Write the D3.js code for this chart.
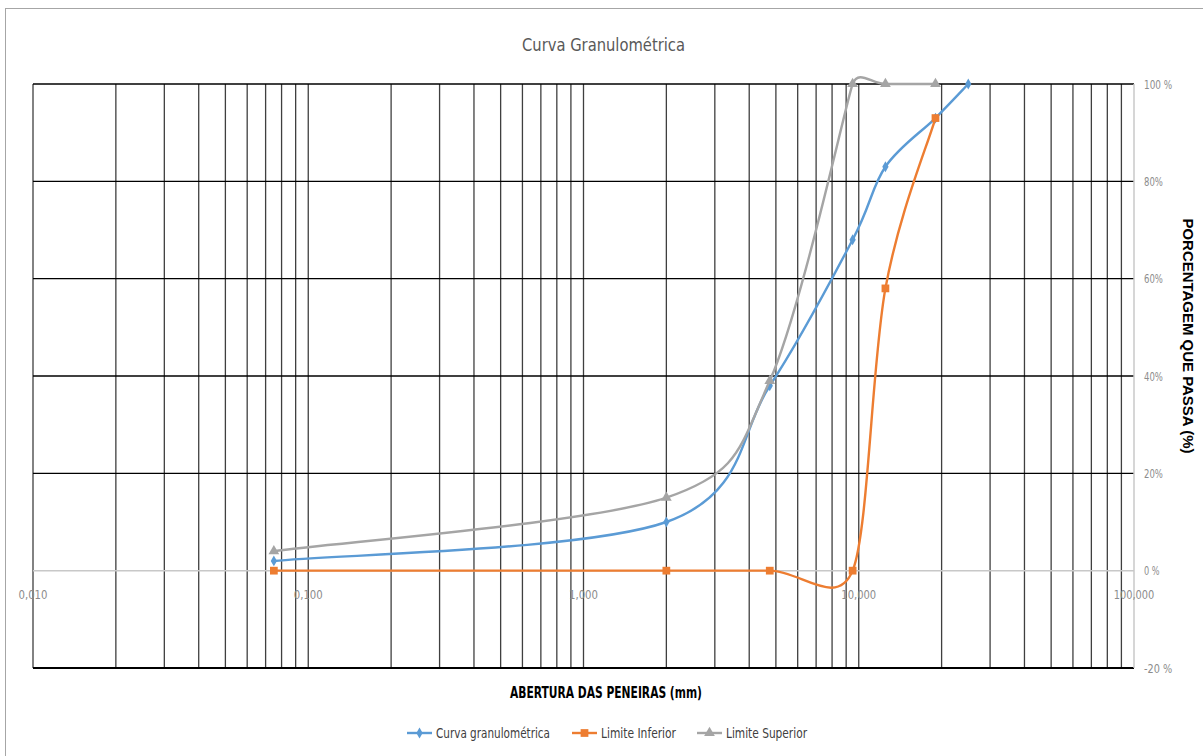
<!DOCTYPE html>
<html>
<head>
<meta charset="utf-8">
<script src="https://cdn.jsdelivr.net/npm/d3@7"></script>
<style>
  html, body { margin: 0; padding: 0; background: #fff; }
  svg { display: block; }
  .narrow { font-family: "Liberation Sans Narrow", "Arial Narrow", "DejaVu Sans Condensed", "Liberation Sans", sans-serif; }
</style>
</head>
<body>
<svg id="chart" width="1203" height="756"></svg>
<script>
// ---- data ----
const title = "Curva Granulométrica";
const xTitle = "ABERTURA DAS PENEIRAS (mm)";
const yTitle = "PORCENTAGEM QUE PASSA (%)";
const sieves = [0.075, 2.0, 4.75, 9.5, 12.5, 19, 25];
const curva = [2, 10, 38, 68, 83, 93, 100];
const limiteInferior = [0, 0, 0, 0, 58, 93, null];
const limiteSuperior = [4, 15, 39, 100, 100, 100, null];
const seriesNames = ["Curva granulométrica", "Limite Inferior", "Limite Superior"];
const xTickValues = [0.01, 0.1, 1, 10, 100];
const xTickLabels = ["0,010", "0,100", "1,000", "10,000", "100,000"];
const yTickValues = [-20, 0, 20, 40, 60, 80, 100];
const yTickLabels = ["-20 %", "0 %", "20%", "40%", "60%", "80%", "100 %"];

const colors = ["#5B9BD5", "#ED7D31", "#A5A5A5"];

const svg = d3.select("#chart");
const L = 33, R = 1134, T = 84, B = 668;

const x = d3.scaleLog().domain([0.01, 100]).range([L, R]);
const y = d3.scaleLinear().domain([-20, 100]).range([B, T]);

// border
svg.append("rect").attr("x", 5.5).attr("y", 8.5).attr("width", 1210).attr("height", 760)
  .attr("fill", "none").attr("stroke", "#a6a6a6").attr("stroke-width", 1);

// title
svg.append("text").attr("class", "narrow").attr("x", 603.5).attr("y", 51)
  .attr("text-anchor", "middle").attr("font-size", 18).attr("fill", "#595959")
  .attr("textLength", 163).attr("lengthAdjust", "spacingAndGlyphs").text(title);

// vertical gridlines (log minor)
const vTicks = [];
for (let e = -2; e < 2; e++) {
  for (let m = 1; m <= 9; m++) vTicks.push(m * Math.pow(10, e));
}
const g = svg.append("g");
g.selectAll("line.v").data(vTicks).enter().append("line")
  .attr("x1", d => x(d)).attr("x2", d => x(d)).attr("y1", T).attr("y2", B)
  .attr("stroke", "#3f3f3f").attr("stroke-width", 1.3);

// horizontal gridlines
g.selectAll("line.h").data(yTickValues.filter(v => v !== 0)).enter().append("line")
  .attr("x1", L).attr("x2", R).attr("y1", d => y(d)).attr("y2", d => y(d))
  .attr("stroke", "#000").attr("stroke-width", d => d === -20 ? 2 : 1.4);

// zero line and right axis line (light grey)
svg.append("line").attr("x1", L).attr("x2", R).attr("y1", y(0)).attr("y2", y(0))
  .attr("stroke", "#c8c8c8").attr("stroke-width", 1.5);
svg.append("line").attr("x1", R).attr("x2", R).attr("y1", T).attr("y2", B)
  .attr("stroke", "#c8c8c8").attr("stroke-width", 1.5);

// x tick labels
svg.append("g").selectAll("text").data(xTickValues).enter().append("text")
  .attr("class", "narrow").attr("x", d => x(d)).attr("y", 599)
  .attr("text-anchor", "middle").attr("font-size", 13).attr("fill", "#8c8c8c")
  .attr("textLength", (d, i) => xTickLabels[i].length * 5.8).attr("lengthAdjust", "spacingAndGlyphs")
  .text((d, i) => xTickLabels[i]);

// y tick labels (right)
svg.append("g").selectAll("text").data(yTickValues).enter().append("text")
  .attr("class", "narrow").attr("x", 1144).attr("y", d => y(d) + 4.5)
  .attr("font-size", 13).attr("fill", "#8c8c8c")
  .attr("textLength", (d, i) => yTickLabels[i].replace(" ", "").length * 6.3 + (yTickLabels[i].includes(" ") ? 3 : 0))
  .attr("lengthAdjust", "spacingAndGlyphs")
  .text((d, i) => yTickLabels[i]);

// axis titles
svg.append("text").attr("class", "narrow").attr("x", 606).attr("y", 698)
  .attr("text-anchor", "middle").attr("font-size", 16).attr("font-weight", "bold").attr("fill", "#000")
  .attr("textLength", 192).attr("lengthAdjust", "spacingAndGlyphs").text(xTitle);

svg.append("text").attr("transform", "translate(1183,336) rotate(90)")
  .attr("text-anchor", "middle").attr("font-family", "'Liberation Sans', Arial, sans-serif")
  .attr("font-size", 14).attr("font-weight", "bold").attr("fill", "#000")
  .attr("textLength", 235).attr("lengthAdjust", "spacingAndGlyphs").text(yTitle);

// Excel-like smoothed line: Bezier with tangent (P2-P0)/6, capped at half the shorter adjacent segment
function dist(a, b) { return Math.hypot(b[0] - a[0], b[1] - a[1]); }
function ctrl(A, B, C, sign) {
  const d02 = dist(A, C);
  if (d02 === 0) return B;
  const d01 = dist(A, B), d12 = dist(B, C);
  let len = d02 / 6;
  const cap = (d01 === 0 ? d12 : d12 === 0 ? d01 : Math.min(d01, d12)) / 2;
  len = Math.min(len, cap);
  const ux = (C[0] - A[0]) / d02, uy = (C[1] - A[1]) / d02;
  return [B[0] + sign * ux * len, B[1] + sign * uy * len];
}
function smoothPath(pts) {
  let p = d3.path();
  p.moveTo(pts[0][0], pts[0][1]);
  for (let i = 0; i < pts.length - 1; i++) {
    const P0 = pts[i - 1] || pts[i], P1 = pts[i], P2 = pts[i + 1], P3 = pts[i + 2] || pts[i + 1];
    const c1 = ctrl(P0, P1, P2, 1), c2 = ctrl(P1, P2, P3, -1);
    p.bezierCurveTo(c1[0], c1[1], c2[0], c2[1], P2[0], P2[1]);
  }
  return p.toString();
}

// series
const allSeries = [curva, limiteInferior, limiteSuperior];
const symbols = [d3.symbolDiamond, d3.symbolSquare, d3.symbolTriangle];
const symSizes = [34, 60, 50];

allSeries.forEach((vals, i) => {
  const pts = sieves.map((s, k) => [s, vals[k]]).filter(p => p[1] !== null);
  const px = pts.map(p => [x(p[0]), y(p[1])]);
  const sg = svg.append("g");
  sg.append("path").attr("d", smoothPath(px)).attr("fill", "none")
    .attr("stroke", colors[i]).attr("stroke-width", 2.4).attr("stroke-linejoin", "round");
  sg.selectAll("path.m").data(pts).enter().append("path")
    .attr("d", d3.symbol().type(symbols[i]).size(symSizes[i]))
    .attr("transform", d => `translate(${x(d[0])},${y(d[1])})`)
    .attr("fill", colors[i]);
});

// legend
const legendX = [407, 572, 697];
const legendTextLen = [114, 75, 81];
const lg = svg.append("g");
seriesNames.forEach((name, i) => {
  const lx = legendX[i], ly = 733;
  lg.append("line").attr("x1", lx).attr("x2", lx + 25).attr("y1", ly).attr("y2", ly)
    .attr("stroke", colors[i]).attr("stroke-width", 2.4);
  lg.append("path").attr("d", d3.symbol().type(symbols[i]).size(symSizes[i]))
    .attr("transform", `translate(${lx + 12.5},${ly})`).attr("fill", colors[i]);
  lg.append("text").attr("class", "narrow").attr("x", lx + 29).attr("y", ly + 5)
    .attr("font-size", 14).attr("fill", "#404040")
    .attr("textLength", legendTextLen[i]).attr("lengthAdjust", "spacingAndGlyphs").text(name);
});
</script>
</body>
</html>
